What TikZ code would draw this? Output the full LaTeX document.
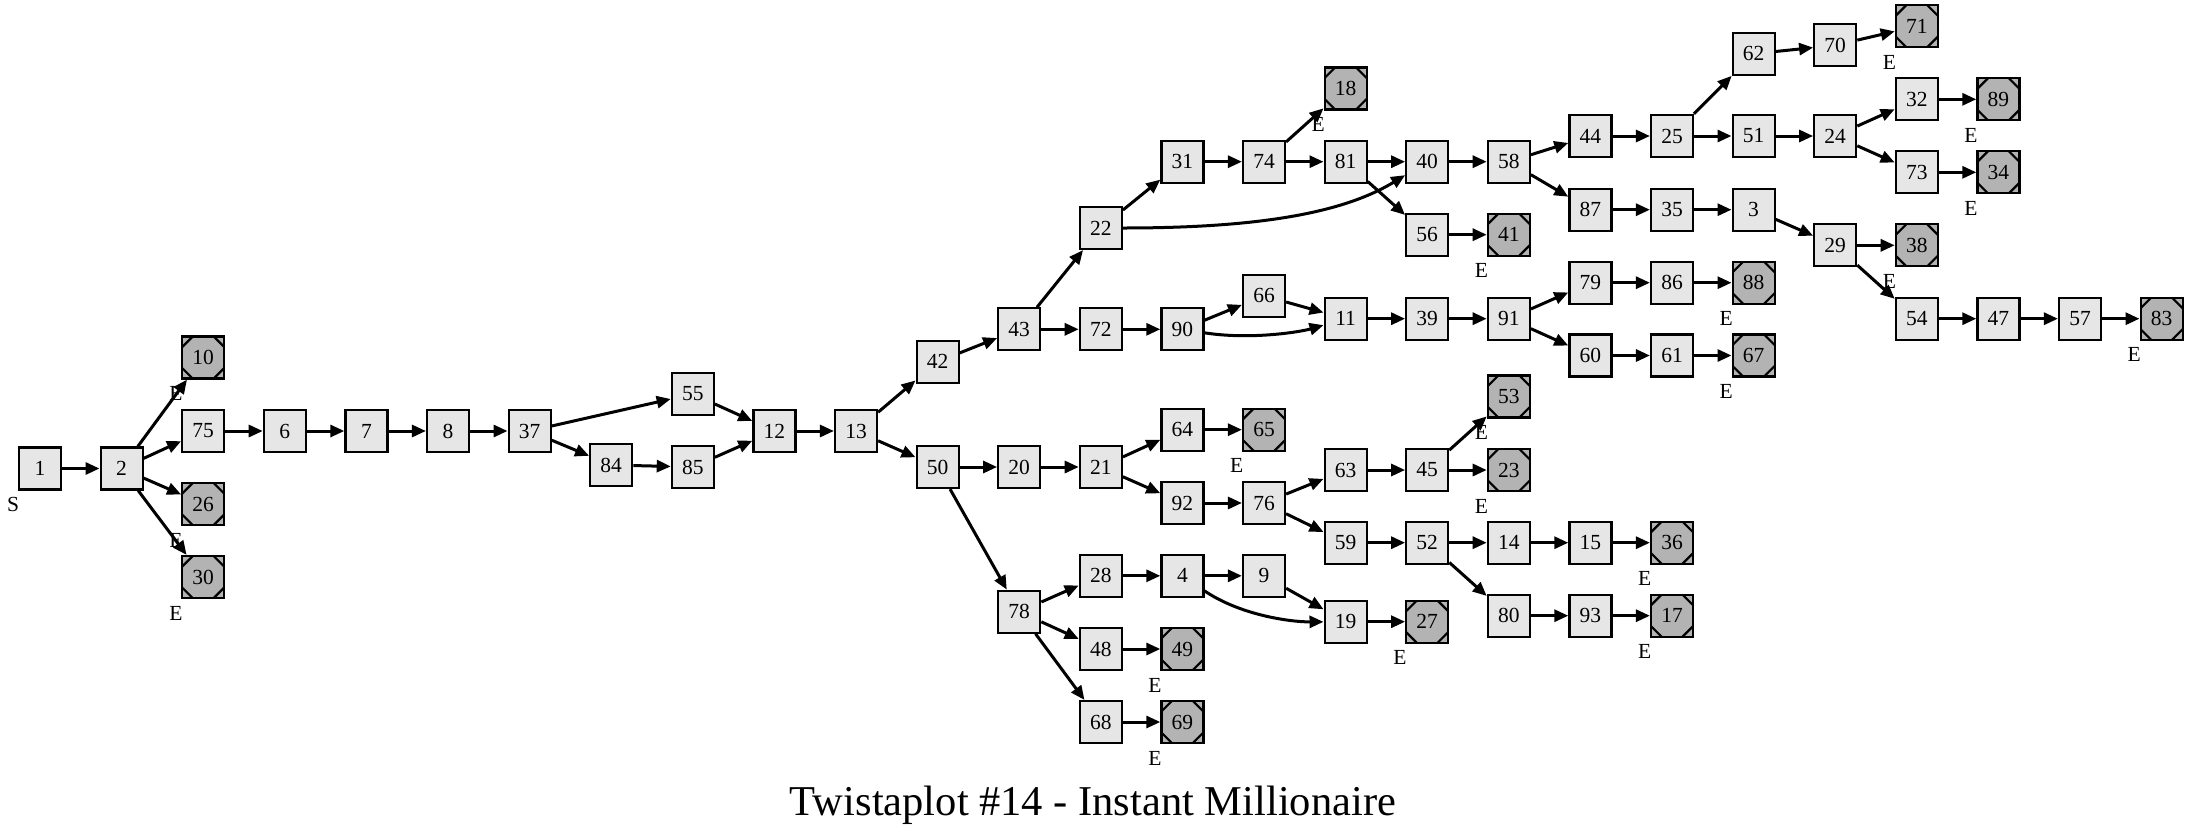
\documentclass[tikz,border=0pt]{standalone}
\usepackage{fontspec}
\setmainfont{Liberation Serif}
\usetikzlibrary{arrows.meta,calc}
\definecolor{nodefill}{HTML}{E6E6E6}
\definecolor{endfill}{HTML}{B3B3B3}
\tikzset{
  nbox/.style={draw=black, line width=2.2pt, fill=nodefill, minimum size=42pt, inner sep=0pt,
    font=\fontsize{21.5}{22}\selectfont},
  ebox/.style={nbox, fill=endfill, path picture={
    \draw[line width=2.2pt]
      ([yshift=-10.5pt]path picture bounding box.north west) -- ([xshift=10.5pt]path picture bounding box.north west)
      ([yshift=-10.5pt]path picture bounding box.north east) -- ([xshift=-10.5pt]path picture bounding box.north east)
      ([yshift=10.5pt]path picture bounding box.south west) -- ([xshift=10.5pt]path picture bounding box.south west)
      ([yshift=10.5pt]path picture bounding box.south east) -- ([xshift=-10.5pt]path picture bounding box.south east);
  }},
  elab/.style={anchor=base east, inner sep=0pt, font=\fontsize{21.5}{22}\selectfont},
  edge/.style={line width=3pt, -{Triangle[length=14pt,width=12pt]}},
}
\newcommand\nd[3]{\node[nbox] (n#1) at ({40+81.6*#2},#3) {#1};}
\newcommand\ed[3]{\node[ebox] (n#1) at ({40+81.6*#2},#3) {#1};
  \node[elab] at ($(n#1.south west)+(1.5,21)$) {E};}
\begin{document}
\begin{tikzpicture}[x=1pt,y=-1pt]
\useasboundingbox (0,0) rectangle (2187,839);
% normal nodes
\nd{1}{0}{468.5}
\node[elab] at ($(n1.south west)+(1.5,21)$) {S};
\nd{2}{1}{468.5}
\nd{75}{2}{431}
\nd{6}{3}{431}
\nd{7}{4}{431}
\nd{8}{5}{431}
\nd{37}{6}{431}
\nd{84}{7}{465}
\nd{55}{8}{394}
\nd{85}{8}{467}
\nd{12}{9}{431}
\nd{13}{10}{431}
\nd{42}{11}{361.7}
\nd{50}{11}{467}
\nd{43}{12}{329.3}
\nd{20}{12}{467}
\nd{78}{12}{611.7}
\nd{22}{13}{228}
\nd{72}{13}{329.3}
\nd{21}{13}{467}
\nd{28}{13}{575.8}
\nd{48}{13}{649}
\nd{68}{13}{722}
\nd{31}{14}{161.7}
\nd{90}{14}{329.3}
\nd{64}{14}{429.7}
\nd{92}{14}{503}
\nd{4}{14}{575.8}
\nd{74}{15}{161.7}
\nd{66}{15}{295.8}
\nd{76}{15}{503}
\nd{9}{15}{575.8}
\nd{81}{16}{161.7}
\nd{11}{16}{318.7}
\nd{63}{16}{470}
\nd{59}{16}{542.7}
\nd{19}{16}{621.7}
\nd{40}{17}{161.7}
\nd{56}{17}{234.7}
\nd{39}{17}{318.7}
\nd{45}{17}{470}
\nd{52}{17}{542.7}
\nd{58}{18}{161.7}
\nd{91}{18}{318.7}
\nd{14}{18}{542.7}
\nd{80}{18}{615.7}
\nd{44}{19}{136}
\nd{87}{19}{209.7}
\nd{79}{19}{282.7}
\nd{60}{19}{355.5}
\nd{15}{19}{542.7}
\nd{93}{19}{615.7}
\nd{25}{20}{136}
\nd{35}{20}{209.7}
\nd{86}{20}{282.7}
\nd{61}{20}{355.5}
\nd{62}{21}{53.8}
\nd{51}{21}{136}
\nd{3}{21}{209.7}
\nd{70}{22}{45.3}
\nd{24}{22}{136}
\nd{29}{22}{245.3}
\nd{32}{23}{99.3}
\nd{73}{23}{172.3}
\nd{54}{23}{318.7}
\nd{47}{24}{318.7}
\nd{57}{25}{318.7}
% end nodes
\ed{10}{2}{357.5}
\ed{26}{2}{504}
\ed{30}{2}{577}
\ed{49}{14}{649}
\ed{69}{14}{722}
\ed{65}{15}{429.7}
\ed{18}{16}{88.5}
\ed{27}{17}{621.7}
\ed{41}{18}{234.7}
\ed{53}{18}{396.5}
\ed{23}{18}{470}
\ed{36}{20}{542.7}
\ed{17}{20}{615.7}
\ed{88}{21}{282.7}
\ed{67}{21}{355.5}
\ed{71}{23}{26.2}
\ed{38}{23}{245.3}
\ed{89}{24}{99.3}
\ed{34}{24}{172.3}
\ed{83}{26}{318.7}
% edges
\foreach \a/\b in {1/2,2/10,2/75,2/26,2/30,75/6,6/7,7/8,8/37,37/55,37/84,84/85,55/12,85/12,12/13,
  13/42,13/50,42/43,43/22,43/72,22/31,31/74,74/18,74/81,81/40,81/56,56/41,40/58,58/44,58/87,
  44/25,25/62,25/51,62/70,70/71,51/24,24/32,24/73,32/89,73/34,87/35,35/3,3/29,29/38,29/54,
  54/47,47/57,57/83,72/90,90/66,66/11,11/39,39/91,91/79,91/60,79/86,86/88,60/61,61/67,
  50/20,50/78,20/21,21/64,21/92,64/65,92/76,76/63,76/59,63/45,45/53,45/23,59/52,52/14,52/80,
  14/15,15/36,80/93,93/17,78/28,78/48,78/68,28/4,4/9,9/19,19/27,48/49,68/69}
  {\draw[edge] (n\a) -- (n\b);}
\draw[edge] (n22) .. controls (1250,228) and (1340,215) .. (n40);
\draw[edge] (n90) .. controls (1250,340) and (1300,332) .. (n11);
\draw[edge] (n4) .. controls (1240,615) and (1290,622) .. (n19);
% title
\node[anchor=base, inner sep=0pt, font=\fontsize{42.5}{44}\selectfont] (title) at (1093,815) {Twistaplot \#14 - Instant Millionaire};
\end{tikzpicture}
\end{document}
